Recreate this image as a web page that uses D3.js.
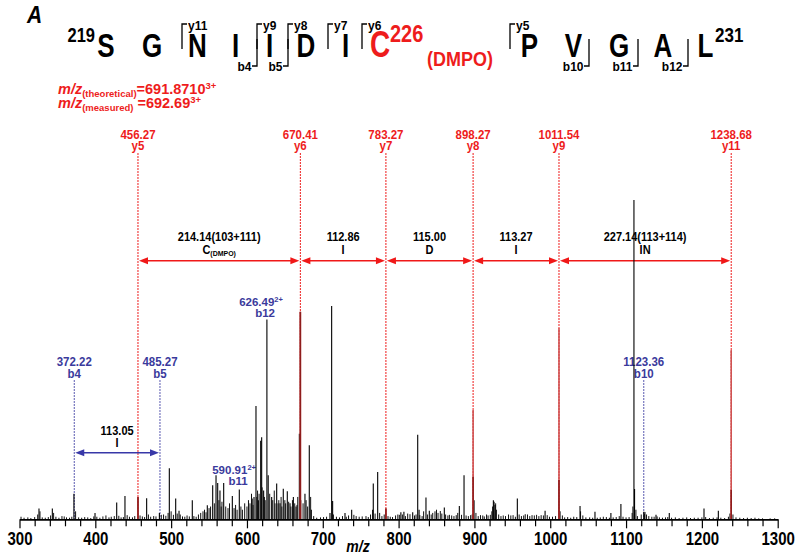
<!DOCTYPE html>
<html><head><meta charset="utf-8">
<script src="https://cdn.jsdelivr.net/npm/d3@7"></script>
<style>
html,body{margin:0;padding:0;background:#fff;}
svg{display:block;font-family:"Liberation Sans",Arial,sans-serif;font-weight:bold;}
</style></head>
<body><svg id="c" width="800" height="559"></svg>
<script>
// ---------------- DATA ----------------
const tickLabels = [300,400,500,600,700,800,900,1000,1100,1200,1300];
// main fragment peaks (m/z, relative intensity %)
const peakMz  = [325.7,343.3,371.8,399.6,428.2,439.1,467.7,484.5,497.6,506,510.4,527.9,547.7,554.8,559.2,561.4,564.4,569.3,580.7,589.9,609.3,611.9,615,618.1,619.4,622,626.3,628,632.6,639.2,643.6,647.9,653.2,656.8,661.2,664.7,669.1,676.5,682.2,709.5,711.7,713,729.3,738.1,765.8,766.6,772.4,803,807,818.6,825.2,827,836.1,840.5,860.3,880.1,886.3,899.5,925,927.2,956.6,993.2,1039.3,1059,1080,1093.2,1110.4,1111.2,1123.4,1124,1139.5,1157,1202.8,1221.7];
const peakInt = [3.4,3.4,8,2,5.3,7.3,6.6,2,16,6.5,2.7,6,4.4,10.7,13.8,11.4,9,11.4,7.3,9.3,7,35.5,6,24.6,25.7,9,62.6,13.8,7,11.2,5,9.6,8.8,5,7,4,26.8,8,23.2,2,66.8,5.7,2,3,3,11.2,14.8,2.2,2.4,2.2,26.5,3,6.8,2.7,3.7,4.2,13.8,6,6,4.5,6.5,2.7,4.2,2.4,2,4.8,100,9.5,2.4,1.7,1.4,2,3.4,2.7];
// small background peaks
const noiseMz  = [302,306,311,315,320,324,327,330,334,338,341,345,348,352,356,359,362,366,369,374,378,382,386,390,394,398,402,406,410,414,418,421,425,431,434,437,442,445,449,452,459,462,465,470,473,477,480,487,490,493,496,500,503,508,512,515,518,521,524,530,533,536,539,542,544,546,550,552,557,563,566,567,572,575,577,583,585,587,592,594,597,600,602,604,606,607,608,613,614,616,620,623,624,630,634,636,637,641,642,645,646,650,651,655,658,660,663,666,667,671,674,678,680,684,685,688,692,697,701,705,714,718,722,726,731,734,741,744,748,752,757,760,763,769,775,778,781,786,789,792,796,799,801,805,809,812,815,821,823,828,831,833,838,843,845,848,850,852,855,857,862,865,867,870,873,876,878,883,889,892,895,897,902,905,908,911,913,916,918,921,923,924,926,928,929,932,935,938,941,945,948,951,954,959,962,965,967,970,973,976,979,982,985,988,991,996,999,1003,1007,1013,1016,1019,1023,1027,1031,1035,1040,1043,1047,1052,1056,1062,1066,1070,1074,1078,1083,1087,1091,1096,1100,1104,1108,1109,1113,1115,1120,1125,1127,1130,1134,1137,1141,1144,1148,1152,1155,1160,1165,1170,1175,1180,1185,1190,1195,1200,1205,1210,1215,1220,1225,1230,1235,1237,1241,1245,1250,1255,1260,1265,1270,1275,1280,1290,1296];
const noiseInt = [0.8,0.5,0.6,0.4,0.7,1.5,2.5,0.6,0.5,0.7,1.2,2,0.8,0.5,1,0.9,0.6,0.5,0.8,2.5,0.6,0.5,0.7,0.6,0.4,0.9,0.8,0.5,0.9,1.2,0.6,0.8,1,1.1,0.6,0.7,1.3,0.8,0.6,1,1.2,0.9,0.7,1.5,0.8,1,0.9,1.4,1.5,1.1,2,2.5,1.4,1.8,1.5,0.9,0.8,1.2,0.9,1,0.8,1.5,2,2.5,3,2.2,3.5,4,5,6,4,5.5,4,3.5,5,3.5,4.5,3,4,3,5,4,6,5,8,6.5,4.5,7,9,8,10,7,6,8,6,9,5,5,6,7,4,6,5,5.5,4,6,5,4.5,7,6,5,6,4,7,3,1,0.5,0.6,0.7,0.8,1.5,0.8,0.6,1,0.8,1.2,1.4,1,0.8,0.9,1,0.7,1.5,1.8,2,1,1.5,1,0.8,0.7,1.2,1.5,1.4,1.5,1,1.8,1.6,1.2,1.5,1.3,1,2.5,1.5,1.5,2,2.5,3,2,2.6,1.8,1.5,1.2,1.4,1.2,1,1.3,2,1.4,1.2,1,1.3,1.5,2,1,1.3,1.2,0.9,1.5,1.2,1.4,2.5,4,5.5,5,3,1.5,1,1.2,1,1.5,1.2,1.3,0.8,1.5,1,1.2,1.6,1.5,1,1.3,1.2,1.4,1,1.3,1.2,1.3,0.8,0.8,1,2.5,1.2,0.6,0.7,0.5,0.8,0.7,2.5,1.2,0.6,0.6,0.5,0.5,0.6,0.8,0.7,0.5,0.6,0.7,1,0.8,0.6,0.7,2,4,3,1,1.5,2.3,1.5,1,0.8,0.8,0.9,0.6,0.5,0.6,0.7,0.5,0.6,0.4,0.5,0.6,0.4,0.5,0.5,0.6,0.7,0.4,0.5,0.6,0.5,0.4,0.8,1.8,1.5,0.6,0.5,0.4,0.5,0.4,0.5,0.3,0.3,0.3,0.3];
// y ions (red)
const yIonMz    = [456.27, 670.41, 783.27, 898.27, 1011.54, 1238.68];
const yIonNames = ["y5","y6","y7","y8","y9","y11"];
const yIonInt   = [7, 65, 3.4, 34.2, 59.8, 53];
const yIonCore  = [7, 65, 3.4, 13.3, 12.3, 9.2];
const yGapMass  = ["214.14(103+111)","112.86","115.00","113.27","227.14(113+114)"];
const yGapRes   = ["C","I","D","I","IN"];
const yGapSub   = ["(DMPO)","","","",""];
// b ions (blue)
const bIonMz    = [372.22, 485.27, 1123.36];
const bIonNames = ["b4","b5","b10"];
const b2Mz      = [626.49, 590.91];
const b2Names   = ["b12","b11"];
const b2Charge  = ["2+","2+"];
const bGapMass  = ["113.05"];
const bGapRes   = ["I"];
// sequence
const seqRes    = ["S","G","N","I","I","D","I","C","P","V","G","A","L"];
const seqX      = [106,152,197.5,235.5,269.5,306,345.5,380,529.5,573.5,619,663,705.5];
const yCutNames = ["y11","y9","y8","y7","y6","y5"];
const yCutX     = [182,257,288,328,362,510];
const bCutNames = ["b4","b5","b10","b11","b12"];
const bCutX     = [257,288,589,638,688];
const precursor = ["691.8710","692.69"];

// ---------------- DRAW ----------------
const RED = "#ee1c1c", BLUE = "#3a3a9c", PEAKRED = "#cf5252", COREDARK = "#8e1c1c";
const svg = d3.select("#c");
const x = d3.scaleLinear().domain([300,1300]).range([19.5,777.7]);
const y = d3.scaleLinear().domain([0,100]).range([519.3,200]);

function txt(g, px, py, s, size, opt={}) {
  const t = g.append("text")
    .attr("transform", `translate(${px},${py}) scale(1,${opt.sy||1})`)
    .attr("text-anchor", opt.anchor||"middle")
    .attr("font-size", size)
    .attr("fill", opt.fill||"#000");
  if (opt.italic) t.attr("font-style","italic");
  if (s!==null) t.text(s);
  return t;
}

// Panel letter
txt(svg, 27, 23, "A", 21, {anchor:"start", italic:true, sy:1.15});

// Sequence
const seqG = svg.append("g");
seqRes.forEach((r,i)=>{
  const isC = r==="C" && i===7;
  txt(seqG, seqX[i], 57, r, isC?28:26, {sy:1.3, fill:isC?RED:"#000"});
});
txt(seqG, 95, 42, "219", 16.5, {anchor:"end", sy:1.2});
txt(seqG, 390, 42, "226", 20, {anchor:"start", sy:1.2, fill:RED});
txt(seqG, 427, 66, "(DMPO)", 18, {anchor:"start", sy:1.15, fill:RED});
txt(seqG, 715, 42, "231", 17, {anchor:"start", sy:1.2});
yCutX.forEach((cx,i)=>{
  seqG.append("path").attr("d",`M${cx},49V24H${cx+5}`).attr("fill","none").attr("stroke","#000").attr("stroke-width",1.3);
  txt(seqG, cx+6, 29.5, yCutNames[i], 12, {anchor:"start", sy:1.1});
});
bCutX.forEach((cx,i)=>{
  seqG.append("path").attr("d",`M${cx-5},66H${cx}V39`).attr("fill","none").attr("stroke","#000").attr("stroke-width",1.3);
  txt(seqG, cx-5.5, 70.5, bCutNames[i], 12, {anchor:"end", sy:1.1});
});

// precursor text
["(theoretical)","(measured)"].forEach((lab,i)=>{
  const t = txt(svg, 58, 94+i*13.5, null, 14.5, {anchor:"start", fill:RED});
  t.append("tspan").attr("font-style","italic").text("m/z");
  t.append("tspan").attr("font-size",9.5).attr("dy",3).text(lab);
  t.append("tspan").attr("dy",-3).text((i?" ":"")+"="+precursor[i]);
  t.append("tspan").attr("font-size",9.5).attr("dy",-5).text("3+");
});

// dashed guide lines
svg.append("g").selectAll("line").data(yIonMz).join("line")
  .attr("x1",d=>x(d)).attr("x2",d=>x(d)).attr("y1",153).attr("y2",y(0))
  .attr("stroke",RED).attr("stroke-width",1).attr("stroke-dasharray","2,1");
svg.append("g").selectAll("line").data(bIonMz).join("line")
  .attr("x1",d=>x(d)).attr("x2",d=>x(d)).attr("y1",380).attr("y2",y(0))
  .attr("stroke","#5a5ab0").attr("stroke-width",1).attr("stroke-dasharray","2,1");

// y ion labels
yIonMz.forEach((m,i)=>{
  txt(svg, x(m), 138.5, m.toFixed(2), 11.5, {fill:RED, sy:1.1});
  txt(svg, x(m), 150, yIonNames[i], 11.5, {fill:RED, sy:1.1});
});
// b ion labels
bIonMz.forEach((m,i)=>{
  txt(svg, x(m), 366, m.toFixed(2), 11.5, {fill:BLUE, sy:1.05});
  txt(svg, x(m), 378, bIonNames[i], 11.5, {fill:BLUE, sy:1.05});
});
const b2Lab = [[306,317],[474,485]];
b2Mz.forEach((m,i)=>{
  const t = txt(svg, x(m)-6, b2Lab[i][0], null, 11.5, {fill:BLUE});
  t.append("tspan").text(m.toFixed(2));
  t.append("tspan").attr("font-size",7.5).attr("dy",-4).text(b2Charge[i]);
  txt(svg, x(m)-2, b2Lab[i][1], b2Names[i], 11.5, {fill:BLUE});
});

// arrows
function arrow(x1, x2, yy, col) {
  const g = svg.append("g");
  const h = 9, w = 3.5;
  g.append("line").attr("x1",x1+h-1).attr("x2",x2-h+1).attr("y1",yy).attr("y2",yy)
    .attr("stroke",col).attr("stroke-width",1.5);
  g.append("path").attr("d",`M${x1},${yy}L${x1+h},${yy-w}L${x1+h},${yy+w}Z`).attr("fill",col);
  g.append("path").attr("d",`M${x2},${yy}L${x2-h},${yy-w}L${x2-h},${yy+w}Z`).attr("fill",col);
}
for (let i=0;i<yIonMz.length-1;i++){
  const a = x(yIonMz[i])+1, b = x(yIonMz[i+1])-1;
  arrow(a, b, 260.7, "#f01818");
  const cx = (a+b)/2;
  txt(svg, cx, 241, yGapMass[i], 11, {sy:1.1});
  const t = txt(svg, cx, 253.5, null, 11, {sy:1.1});
  t.append("tspan").text(yGapRes[i]);
  if (yGapSub[i]) t.append("tspan").attr("font-size",7).attr("dy",2).text(yGapSub[i]);
}
{
  const a = x(bIonMz[0])+1, b = x(bIonMz[1])-1;
  arrow(a, b, 452.7, "#3838a8");
  txt(svg, (a+b)/2, 435, bGapMass[0], 11, {sy:1.1});
  txt(svg, (a+b)/2, 447, bGapRes[0], 11, {sy:1.1});
}

// noise & peaks
svg.append("g").selectAll("line").data(d3.zip(noiseMz,noiseInt)).join("line")
  .attr("x1",d=>x(d[0])).attr("x2",d=>x(d[0])).attr("y1",y(0)).attr("y2",d=>y(d[1]))
  .attr("stroke","#111").attr("stroke-width",1);
svg.append("g").selectAll("line").data(d3.zip(peakMz,peakInt)).join("line")
  .attr("x1",d=>x(d[0])).attr("x2",d=>x(d[0])).attr("y1",y(0)).attr("y2",d=>y(d[1]))
  .attr("stroke","#000").attr("stroke-width",1.1);
// y ion peaks
svg.append("g").selectAll("line").data(d3.zip(yIonMz,yIonInt)).join("line")
  .attr("x1",d=>x(d[0])).attr("x2",d=>x(d[0])).attr("y1",y(0)).attr("y2",d=>y(d[1]))
  .attr("stroke",PEAKRED).attr("stroke-width",1.6);
svg.append("g").selectAll("line").data(d3.zip(yIonMz,yIonCore)).join("line")
  .attr("x1",d=>x(d[0])).attr("x2",d=>x(d[0])).attr("y1",y(0)).attr("y2",d=>y(d[1]))
  .attr("stroke",COREDARK).attr("stroke-width",1.6);

// axis
const minor = d3.range(300,1301,20).filter(v=>v%100!==0);
svg.append("g").attr("transform",`translate(0,${y(0)})`)
  .call(d3.axisBottom(x).tickValues(minor).tickSize(7).tickFormat(""))
  .call(g=>g.select(".domain").remove())
  .call(g=>g.selectAll("line").attr("stroke","#000").attr("stroke-width",1.2));
const ax = svg.append("g").attr("transform",`translate(0,${y(0)})`)
  .call(d3.axisBottom(x).tickValues(tickLabels).tickSize(9).tickSizeOuter(0).tickFormat(d3.format("d")));
ax.select(".domain").attr("stroke","#000").attr("stroke-width",1.8);
ax.selectAll(".tick line").attr("stroke","#000").attr("stroke-width",1.2);
ax.selectAll(".tick text").attr("y",0).attr("dy",0)
  .attr("transform","translate(0,25.7) scale(1,1.25)")
  .attr("font-size",15).attr("font-weight","bold").attr("fill","#000")
  .attr("font-family","'Liberation Sans',Arial,sans-serif");
txt(svg, 358, 552, "m/z", 14, {italic:true, sy:1.15});
</script></body></html>
